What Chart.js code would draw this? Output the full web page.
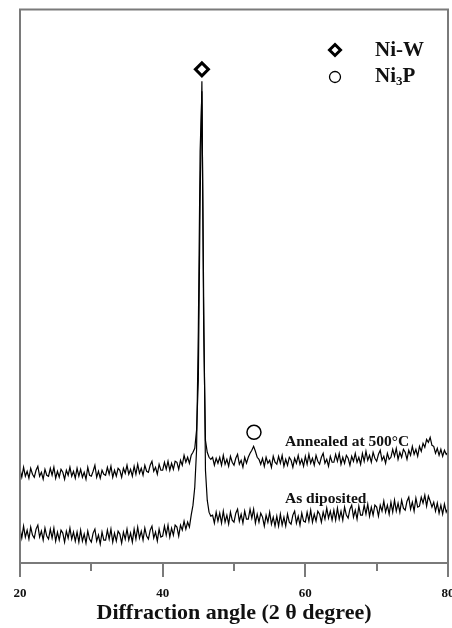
<!DOCTYPE html>
<html>
<head>
<meta charset="utf-8">
<style>
  html, body { margin: 0; padding: 0; background: #fff; overflow: hidden; }
  #wrap { position: relative; width: 470px; height: 628px; }
</style>
<script src="https://cdn.jsdelivr.net/npm/chart.js@4.4.1/dist/chart.umd.min.js"></script>
</head>
<body>
<div id="wrap"><canvas id="xrd"></canvas></div>
<script>
// 2-theta scan positions (deg)
const scanAngles = [
  20, 20.25, 20.5, 20.75, 21, 21.25, 21.5, 21.75, 22, 22.25, 22.5, 22.75, 23, 23.25, 23.5, 23.75,
  24, 24.25, 24.5, 24.75, 25, 25.25, 25.5, 25.75, 26, 26.25, 26.5, 26.75, 27, 27.25, 27.5, 27.75,
  28, 28.25, 28.5, 28.75, 29, 29.25, 29.5, 29.75, 30, 30.25, 30.5, 30.75, 31, 31.25, 31.5, 31.75,
  32, 32.25, 32.5, 32.75, 33, 33.25, 33.5, 33.75, 34, 34.25, 34.5, 34.75, 35, 35.25, 35.5, 35.75,
  36, 36.25, 36.5, 36.75, 37, 37.25, 37.5, 37.75, 38, 38.25, 38.5, 38.75, 39, 39.25, 39.5, 39.75,
  40, 40.25, 40.5, 40.75, 41, 41.25, 41.5, 41.75, 42, 42.25, 42.5, 42.75, 43, 43.25, 43.5, 43.75,
  44, 44.25, 44.5, 44.75, 45, 45.25, 45.5, 45.75, 46, 46.25, 46.5, 46.75, 47, 47.25, 47.5, 47.75,
  48, 48.25, 48.5, 48.75, 49, 49.25, 49.5, 49.75, 50, 50.25, 50.5, 50.75, 51, 51.25, 51.5, 51.75,
  52, 52.25, 52.5, 52.75, 53, 53.25, 53.5, 53.75, 54, 54.25, 54.5, 54.75, 55, 55.25, 55.5, 55.75,
  56, 56.25, 56.5, 56.75, 57, 57.25, 57.5, 57.75, 58, 58.25, 58.5, 58.75, 59, 59.25, 59.5, 59.75,
  60, 60.25, 60.5, 60.75, 61, 61.25, 61.5, 61.75, 62, 62.25, 62.5, 62.75, 63, 63.25, 63.5, 63.75,
  64, 64.25, 64.5, 64.75, 65, 65.25, 65.5, 65.75, 66, 66.25, 66.5, 66.75, 67, 67.25, 67.5, 67.75,
  68, 68.25, 68.5, 68.75, 69, 69.25, 69.5, 69.75, 70, 70.25, 70.5, 70.75, 71, 71.25, 71.5, 71.75,
  72, 72.25, 72.5, 72.75, 73, 73.25, 73.5, 73.75, 74, 74.25, 74.5, 74.75, 75, 75.25, 75.5, 75.75,
  76, 76.25, 76.5, 76.75, 77, 77.25, 77.5, 77.75, 78, 78.25, 78.5, 78.75, 79, 79.25, 79.5, 79.75,
  80
];

// intensity, a.u. (curves offset vertically as in the figure)
const annealed500 = [
  94, 86, 96, 87, 92, 85, 95, 89, 86, 93, 97, 87, 91, 84, 94, 88,
  87, 95, 88, 96, 85, 92, 86, 94, 91, 84, 93, 88, 96, 87, 92, 85,
  95, 87, 94, 86, 91, 84, 96, 88, 87, 92, 98, 86, 92, 85, 93, 89,
  88, 96, 89, 97, 86, 93, 87, 95, 93, 86, 95, 90, 98, 89, 94, 87,
  97, 89, 99, 90, 95, 88, 98, 92, 91, 98, 102, 92, 96, 89, 99, 93,
  93, 101, 94, 102, 93, 100, 94, 102, 101, 94, 103, 98, 108, 101, 106, 100,
  108, 111, 115, 133, 183, 363, 483, 233, 123, 111, 106, 104, 106, 98, 105, 100,
  106, 98, 108, 99, 104, 97, 107, 101, 98, 105, 109, 99, 103, 96, 106, 100,
  106, 110, 113, 117, 112, 106, 104, 99, 105, 97, 106, 100, 103, 96, 107, 101,
  99, 107, 100, 108, 97, 104, 98, 106, 103, 96, 105, 100, 108, 99, 104, 97,
  107, 99, 109, 100, 105, 98, 108, 102, 99, 106, 110, 100, 104, 97, 107, 101,
  101, 109, 102, 110, 99, 106, 100, 108, 105, 98, 107, 102, 110, 101, 106, 99,
  110, 102, 112, 103, 108, 101, 111, 105, 102, 109, 113, 103, 107, 100, 110, 104,
  106, 114, 107, 115, 104, 111, 106, 114, 111, 104, 113, 108, 117, 109, 114, 107,
  117, 112, 120, 116, 124, 121, 126, 118, 117, 110, 115, 108, 114, 107, 113, 109,
  111
];

const asDeposited = [
  35, 25, 37, 26, 33, 24, 36, 28, 25, 34, 38, 26, 32, 23, 35, 27,
  24, 34, 25, 35, 22, 31, 23, 33, 30, 21, 32, 25, 35, 24, 31, 22,
  31, 21, 33, 22, 29, 20, 32, 24, 21, 30, 34, 22, 28, 19, 31, 23,
  23, 33, 24, 34, 21, 30, 22, 32, 29, 20, 31, 24, 34, 23, 30, 21,
  34, 24, 36, 25, 32, 23, 35, 27, 24, 33, 37, 25, 31, 22, 34, 26,
  27, 37, 28, 38, 26, 35, 28, 38, 36, 27, 38, 33, 42, 34, 41, 36,
  48, 58, 76, 113, 233, 413, 473, 263, 93, 63, 51, 47, 48, 40, 51, 42,
  50, 40, 52, 41, 48, 39, 51, 43, 41, 50, 54, 42, 49, 40, 52, 44,
  44, 54, 45, 54, 40, 49, 41, 50, 46, 37, 48, 41, 51, 39, 46, 37,
  47, 37, 49, 38, 46, 37, 49, 41, 39, 48, 52, 40, 47, 38, 50, 42,
  41, 51, 42, 53, 41, 49, 42, 52, 49, 41, 51, 44, 55, 45, 52, 43,
  53, 43, 55, 44, 52, 43, 56, 48, 45, 54, 58, 46, 53, 44, 57, 48,
  48, 58, 49, 59, 47, 56, 48, 58, 56, 47, 58, 52, 62, 51, 58, 49,
  61, 51, 63, 52, 60, 51, 63, 55, 53, 62, 66, 54, 61, 52, 65, 56,
  57, 66, 60, 68, 57, 67, 62, 56, 61, 52, 60, 50, 58, 49, 59, 51,
  55
];

// phase markers [2theta, height]
const niwMarker = [45.5, 495];
const ni3pMarker = [52.8, 131];

const xTicks = [20, 30, 40, 50, 60, 70, 80];
const traceLabels = [
  { text: 'Annealed at 500°C', x: 57.15, y: 121 },
  { text: 'As diposited', x: 57.15, y: 64 }
];

const serif = '"Liberation Serif", "Times New Roman", serif';

function toPoints(ys) {
  return ys.map((y, i) => ({ x: scanAngles[i], y: y }));
}

const framePlugin = {
  id: 'frame',
  afterDraw(chart) {
    const ctx = chart.ctx;
    const a = chart.chartArea;
    const xs = chart.scales.x;
    const ys = chart.scales.y;
    ctx.save();
    ctx.strokeStyle = '#7a7a7a';
    ctx.lineWidth = 2;
    ctx.strokeRect(a.left, a.top, a.right - a.left, a.bottom - a.top);
    xTicks.forEach(v => {
      const px = Math.round(xs.getPixelForValue(v));
      const len = v % 20 === 0 ? 14 : 8;
      ctx.beginPath();
      ctx.moveTo(px, a.bottom);
      ctx.lineTo(px, a.bottom + len);
      ctx.stroke();
    });

    // curve labels
    ctx.fillStyle = '#111';
    ctx.font = 'bold 15.5px ' + serif;
    ctx.textBaseline = 'middle';
    ctx.textAlign = 'left';
    traceLabels.forEach(l => {
      ctx.fillText(l.text, xs.getPixelForValue(l.x), ys.getPixelForValue(l.y));
    });

    // legend
    const lx = 335, ly1 = 50, ly2 = 77;
    ctx.strokeStyle = '#000';
    ctx.fillStyle = '#fff';
    ctx.lineWidth = 3;
    ctx.beginPath();
    ctx.moveTo(lx, ly1 - 5.5);
    ctx.lineTo(lx + 5.5, ly1);
    ctx.lineTo(lx, ly1 + 5.5);
    ctx.lineTo(lx - 5.5, ly1);
    ctx.closePath();
    ctx.fill();
    ctx.stroke();
    ctx.lineWidth = 1.3;
    ctx.beginPath();
    ctx.arc(lx, ly2, 5.5, 0, Math.PI * 2);
    ctx.stroke();

    ctx.fillStyle = '#111';
    ctx.font = 'bold 21px ' + serif;
    ctx.fillText('Ni-W', 375, ly1 + 1);
    ctx.fillText('Ni', 375, ly2);
    const w = ctx.measureText('Ni').width;
    ctx.font = 'bold 13px ' + serif;
    ctx.fillText('3', 375 + w, ly2 + 5);
    const w3 = ctx.measureText('3').width;
    ctx.font = 'bold 21px ' + serif;
    ctx.fillText('P', 375 + w + w3, ly2);
    ctx.restore();
  }
};

new Chart(document.getElementById('xrd'), {
  type: 'line',
  data: {
    datasets: [
      {
        label: 'Annealed at 500°C',
        data: toPoints(annealed500),
        borderColor: '#000',
        borderWidth: 1.2,
        pointRadius: 0,
        tension: 0
      },
      {
        label: 'As diposited',
        data: toPoints(asDeposited),
        borderColor: '#000',
        borderWidth: 1.2,
        pointRadius: 0,
        tension: 0
      },
      {
        type: 'scatter',
        label: 'Ni-W',
        data: [{ x: niwMarker[0], y: niwMarker[1] }],
        pointStyle: 'rectRot',
        pointRadius: 6.5,
        borderWidth: 3,
        borderColor: '#000',
        backgroundColor: '#fff'
      },
      {
        type: 'scatter',
        label: 'Ni3P',
        data: [{ x: ni3pMarker[0], y: ni3pMarker[1] }],
        pointStyle: 'circle',
        pointRadius: 7,
        borderWidth: 1.5,
        borderColor: '#000',
        backgroundColor: 'rgba(255,255,255,0)'
      }
    ]
  },
  options: {
    responsive: true,
    maintainAspectRatio: false,
    animation: false,
    layout: { padding: { top: 8, right: 22, left: 20, bottom: 0 } },
    plugins: {
      legend: { display: false },
      tooltip: { enabled: false }
    },
    scales: {
      x: {
        type: 'linear',
        min: 20,
        max: 80,
        afterFit: scale => { scale.height = 65; },
        border: { display: false },
        grid: {
          drawOnChartArea: false,
          tickLength: 14,
          tickColor: 'rgba(0,0,0,0)'
        },
        ticks: {
          stepSize: 10,
          padding: 9,
          maxRotation: 0,
          color: '#111',
          font: { family: serif, size: 13, weight: 'bold' },
          callback: v => (v % 20 === 0 ? v : '')
        },
        title: {
          display: true,
          text: 'Diffraction angle (2 θ degree)',
          color: '#111',
          font: { family: serif, size: 22, weight: 'bold' },
          padding: { top: 0, bottom: 1 }
        }
      },
      y: {
        display: false,
        min: 0,
        max: 555
      }
    }
  },
  plugins: [framePlugin]
});
</script>
</body>
</html>
